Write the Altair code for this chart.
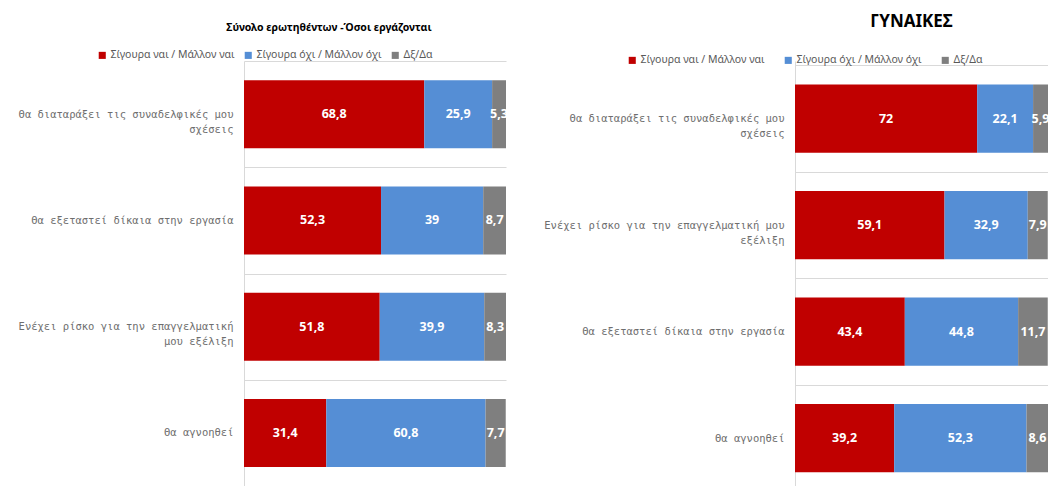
import altair as alt
import pandas as pd

answers = ["Σίγουρα ναι / Μάλλον ναι", "Σίγουρα όχι / Μάλλον όχι", "Δξ/Δα"]
colors = ["#C00000", "#558ED5", "#7F7F7F"]

left_title = "Σύνολο ερωτηθέντων -Όσοι εργάζονται"
left_cats = [
    "Θα διαταράξει τις συναδελφικές μου|σχέσεις",
    "Θα εξεταστεί δίκαια στην εργασία",
    "Ενέχει ρίσκο για την επαγγελματική|μου εξέλιξη",
    "Θα αγνοηθεί",
]
left_yes = [68.8, 52.3, 51.8, 31.4]
left_no = [25.9, 39, 39.9, 60.8]
left_dk = [5.3, 8.7, 8.3, 7.7]

right_title = "ΓΥΝΑΙΚΕΣ"
right_cats = [
    "Θα διαταράξει τις συναδελφικές μου|σχέσεις",
    "Ενέχει ρίσκο για την επαγγελματική μου|εξέλιξη",
    "Θα εξεταστεί δίκαια στην εργασία",
    "Θα αγνοηθεί",
]
right_yes = [72, 59.1, 43.4, 39.2]
right_no = [22.1, 32.9, 44.8, 52.3]
right_dk = [5.9, 7.9, 11.7, 8.6]

LABEL_FONT = "DejaVu Sans Mono"
VALUE_FONT = "Noto Sans"


def make_df(cats, yes, no, dk):
    rows = []
    for i, c in enumerate(cats):
        for k, (a, v) in enumerate(zip(answers, [yes[i], no[i], dk[i]])):
            rows.append({"cat": c, "answer": a, "value": v, "ord": k})
    return pd.DataFrame(rows)


def panel(cats, yes, no, dk, title, tsize, tdx, toffset, w, h, extent,
          lx, ly, colpad, po, align):
    df = make_df(cats, yes, no, dk)
    pi = 0.36
    step = h / (4 - pi + 2 * po)
    base = alt.Chart(df)
    yenc = alt.Y(
        "cat:N",
        sort=cats,
        title=None,
        scale=alt.Scale(paddingInner=pi, paddingOuter=po, align=align),
        axis=alt.Axis(
            ticks=False,
            domainColor="#D9D9D9",
            grid=True,
            gridColor="#D9D9D9",
            bandPosition=0.5,
            tickOffset=-step / 2,
            labelOffset=step / 2,
            labelExpr="split(datum.label, '|')",
            labelFont=LABEL_FONT,
            labelFontSize=10.5,
            labelColor="#6E6E6E",
            labelPadding=11,
            labelLineHeight=15,
            labelLimit=400,
            minExtent=extent,
            maxExtent=extent,
        ),
    )
    bars = base.mark_bar(clip=True).encode(
        x=alt.X(
            "value:Q",
            stack="zero",
            scale=alt.Scale(domain=[0, 100], nice=False),
            axis=alt.Axis(labels=False, ticks=False, grid=False, title=None,
                          domainColor="#D9D9D9"),
        ),
        y=yenc,
        color=alt.Color(
            "answer:N",
            scale=alt.Scale(domain=answers, range=colors),
            legend=alt.Legend(
                title=None,
                orient="none",
                legendX=lx,
                legendY=ly,
                direction="horizontal",
                symbolType="square",
                symbolSize=50,
                symbolStrokeWidth=0,
                labelFont=VALUE_FONT,
                labelFontSize=10.5,
                labelColor="#595959",
                columnPadding=colpad,
                labelOffset=3,
            ),
        ),
        order=alt.Order("ord:Q"),
    )
    text = (
        base.transform_stack(
            stack="value",
            groupby=["cat"],
            sort=[alt.SortField("ord")],
            as_=["x0", "x1"],
        )
        .transform_calculate(
            mid="(datum.x0 + datum.x1) / 2",
            lbl="replace(toString(datum.value), '.', ',')",
        )
        .mark_text(color="white", fontWeight="bold", fontSize=12.5,
                   font=VALUE_FONT, clip=True)
        .encode(x=alt.X("mid:Q"), y=alt.Y("cat:N", sort=cats), text="lbl:N")
    )
    return alt.layer(bars, text).properties(
        width=w,
        height=h,
        title=alt.Title(
            title,
            fontSize=tsize,
            font=VALUE_FONT,
            fontWeight="bold",
            color="#000000",
            anchor="middle",
            dx=tdx,
            offset=toffset,
        ),
    )


left = panel(left_cats, left_yes, left_no, left_dk, left_title, 10.5, -46, 17,
             262, 425, 236, -147, -11, 8, 0.18, 0.5)
right = panel(right_cats, right_yes, right_no, right_dk, right_title, 17, -10,
              24, 253, 425, 274, -168, -6, 18, 0.175, 0.63)

chart = (
    alt.hconcat(left, right, spacing=15)
    .resolve_scale(color="independent", x="independent", y="independent")
    .resolve_legend(color="independent")
    .properties(padding={"top": 5, "left": 0, "right": 0, "bottom": 0},
                background="white")
    .configure_view(stroke=None)
)

chart.save("out.html", embed_options={"renderer": "svg", "actions": False})
